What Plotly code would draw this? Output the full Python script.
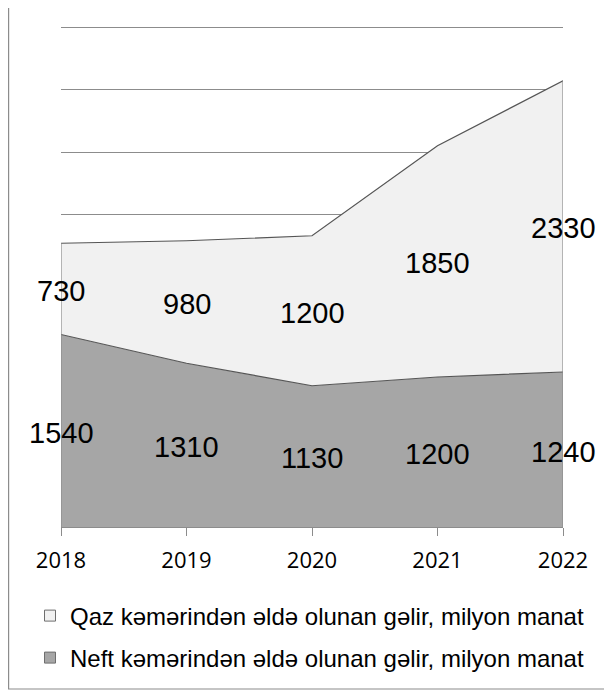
import plotly.graph_objects as go

years = [2018, 2019, 2020, 2021, 2022]
neft = [1540, 1310, 1130, 1200, 1240]
qaz = [730, 980, 1200, 1850, 2330]

qaz_name = "Qaz kəmərindən əldə olunan gəlir, milyon manat"
neft_name = "Neft kəmərindən əldə olunan gəlir, milyon manat"

total = [n + q for n, q in zip(neft, qaz)]
neft_mid = [n / 2 for n in neft]
qaz_mid = [n + q / 2 for n, q in zip(neft, qaz)]

# page body has an 8px margin, so the figure is 8px smaller than the window
W, H = 604, 685
L, T, PW, PH = 53, 14, 502, 505   # y range 0..4040 -> 4000 sits 5px below the top
BOT = T + PH

edge = "#555555"
fig = go.Figure()

# stacked areas
fig.add_trace(go.Scatter(x=years, y=neft, mode="lines", stackgroup="s",
                         line=dict(color=edge, width=1.2), fillcolor="#a6a6a6",
                         showlegend=False, hoverinfo="skip"))
fig.add_trace(go.Scatter(x=years, y=qaz, mode="lines", stackgroup="s",
                         line=dict(color=edge, width=1.2), fillcolor="#f1f1f1",
                         showlegend=False, hoverinfo="skip"))

# vertical edges of the area
for i in (0, -1):
    fig.add_trace(go.Scatter(x=[years[i], years[i]], y=[0, total[i]], mode="lines",
                             line=dict(color="#8c8c8c", width=1.2),
                             showlegend=False, hoverinfo="skip"))

# data labels, centred in each band
lab_font = dict(family="Liberation Sans, Arial", size=29, color="#000")
labels = []
for xs, ys, vals in ((years, neft_mid, neft), (years, qaz_mid, qaz)):
    for x, y, v in zip(xs, ys, vals):
        labels.append(dict(x=x, y=y, text=str(v), showarrow=False, font=lab_font,
                           xanchor="center", yanchor="middle", yshift=-2))

# legend entries
fig.add_trace(go.Scatter(x=[None], y=[None], mode="markers", name=qaz_name, legend="legend",
                         marker=dict(symbol="square", size=11, color="#f1f1f1",
                                     line=dict(color="#6e6e6e", width=1))))
fig.add_trace(go.Scatter(x=[None], y=[None], mode="markers", name=neft_name, legend="legend2",
                         marker=dict(symbol="square", size=11, color="#a6a6a6",
                                     line=dict(color="#6e6e6e", width=1))))

leg_font = dict(family="Liberation Sans, Arial", size=24, color="#000")
leg_x = (22 - L) / PW
fig.update_layout(
    width=W, height=H,
    margin=dict(l=L, r=W - L - PW, t=T, b=H - BOT),
    paper_bgcolor="white", plot_bgcolor="white",
    annotations=labels,
    legend=dict(x=leg_x, y=(BOT - 608) / PH, xanchor="left", yanchor="middle",
                font=leg_font, itemwidth=30, bgcolor="rgba(0,0,0,0)"),
    legend2=dict(x=leg_x, y=(BOT - 650) / PH, xanchor="left", yanchor="middle",
                 font=leg_font, itemwidth=30, bgcolor="rgba(0,0,0,0)"),
    xaxis=dict(range=[2018, 2022], tickvals=years, ticktext=[str(y) for y in years],
               ticks="outside", ticklen=8, tickcolor="#8c8c8c", showgrid=False,
               showline=True, linecolor="#8c8c8c", linewidth=1.2, zeroline=False,
               ticklabelstandoff=5,
               tickfont=dict(family="Open Sans, Liberation Sans", size=22, color="#000")),
    yaxis=dict(range=[0, 4040], tickvals=[500 * k for k in range(1, 9)],
               showticklabels=False, showgrid=True,
               gridcolor="#8c8c8c", gridwidth=1, zeroline=False, showline=False),
    shapes=[dict(type="rect", xref="paper", yref="paper",
                 x0=(0.6 - L) / PW, x1=(599 - L) / PW,
                 y0=(BOT - 681) / PH, y1=(BOT + 3) / PH,
                 line=dict(color="#8c8c8c", width=1.2), fillcolor="rgba(0,0,0,0)")],
)

fig.write_html("out.html")
